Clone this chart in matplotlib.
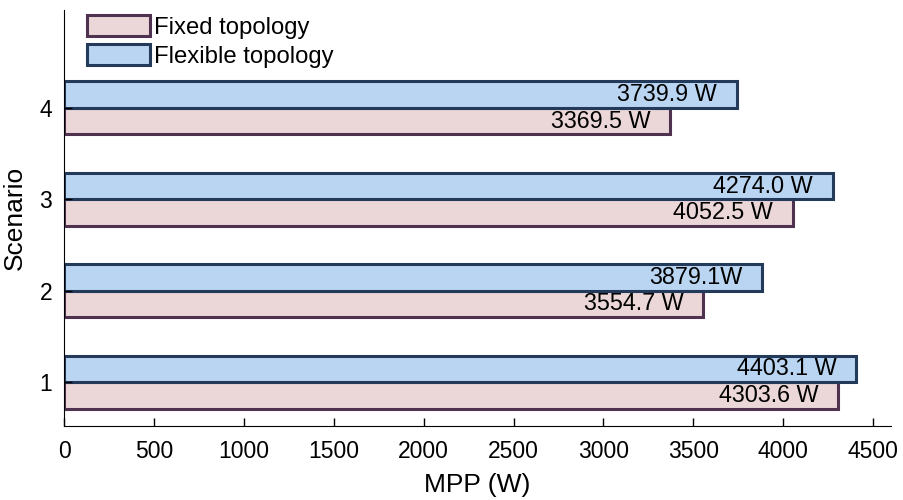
import numpy as np
import matplotlib
matplotlib.use('Agg')
import matplotlib.pyplot as plt
from matplotlib.patches import Patch

plt.rcParams['font.family'] = ['Liberation Sans', 'DejaVu Sans']

scenarios = [1, 2, 3, 4]
fixed = [4303.6, 3554.7, 4052.5, 3369.5]
flexible = [4403.1, 3879.1, 4274.0, 3739.9]
fixed_labels = ['4303.6 W', '3554.7 W', '4052.5 W', '3369.5 W']
flexible_labels = ['4403.1 W', '3879.1W', '4274.0 W', '3739.9 W']

pink, pink_edge = '#ebd7d8', '#4f3150'
blue, blue_edge = '#b9d5f1', '#233a5a'

fig = plt.figure(figsize=(9.04, 5), dpi=100)
ax = fig.add_axes([0.0708, 0.148, 0.915, 0.832])

y = np.array(scenarios, dtype=float)
h = 0.29
b1 = ax.barh(y - h/2, fixed, height=h, color=pink, edgecolor=pink_edge, linewidth=2.2)
b2 = ax.barh(y + h/2, flexible, height=h, color=blue, edgecolor=blue_edge, linewidth=2.2)

for bars, labels in [(b1, fixed_labels), (b2, flexible_labels)]:
    for r, lab in zip(bars, labels):
        ax.annotate(lab, (r.get_width(), r.get_y() + r.get_height()/2),
                    xytext=(-14, 0), textcoords='offset points',
                    ha='right', va='center', fontsize=16.8)

ax.set_xlim(0, 4600)
ax.set_ylim(0.52, 5.07)
ax.set_xticks(np.arange(0, 4501, 500))
ax.set_yticks(scenarios)
ax.tick_params(direction='in', length=6, width=1, labelsize=16.5, pad=10)
ax.tick_params(axis='y', pad=8.5)
ax.spines['top'].set_visible(False)
ax.spines['right'].set_visible(False)
ax.set_xlabel('MPP (W)', fontsize=19, labelpad=7)
ax.set_ylabel('Scenario', fontsize=19, labelpad=9)

handles = [Patch(facecolor=pink, edgecolor=pink_edge, linewidth=2.2),
           Patch(facecolor=blue, edgecolor=blue_edge, linewidth=2.2)]
ax.legend(handles, ['Fixed topology', 'Flexible topology'], loc='upper left',
          bbox_to_anchor=(0.022, 1.0), frameon=False, fontsize=17.2,
          handlelength=2.65, handleheight=1.0, handletextpad=0.15,
          labelspacing=0.22, borderaxespad=0, borderpad=0.2)

fig.savefig('out.png', dpi=100)
